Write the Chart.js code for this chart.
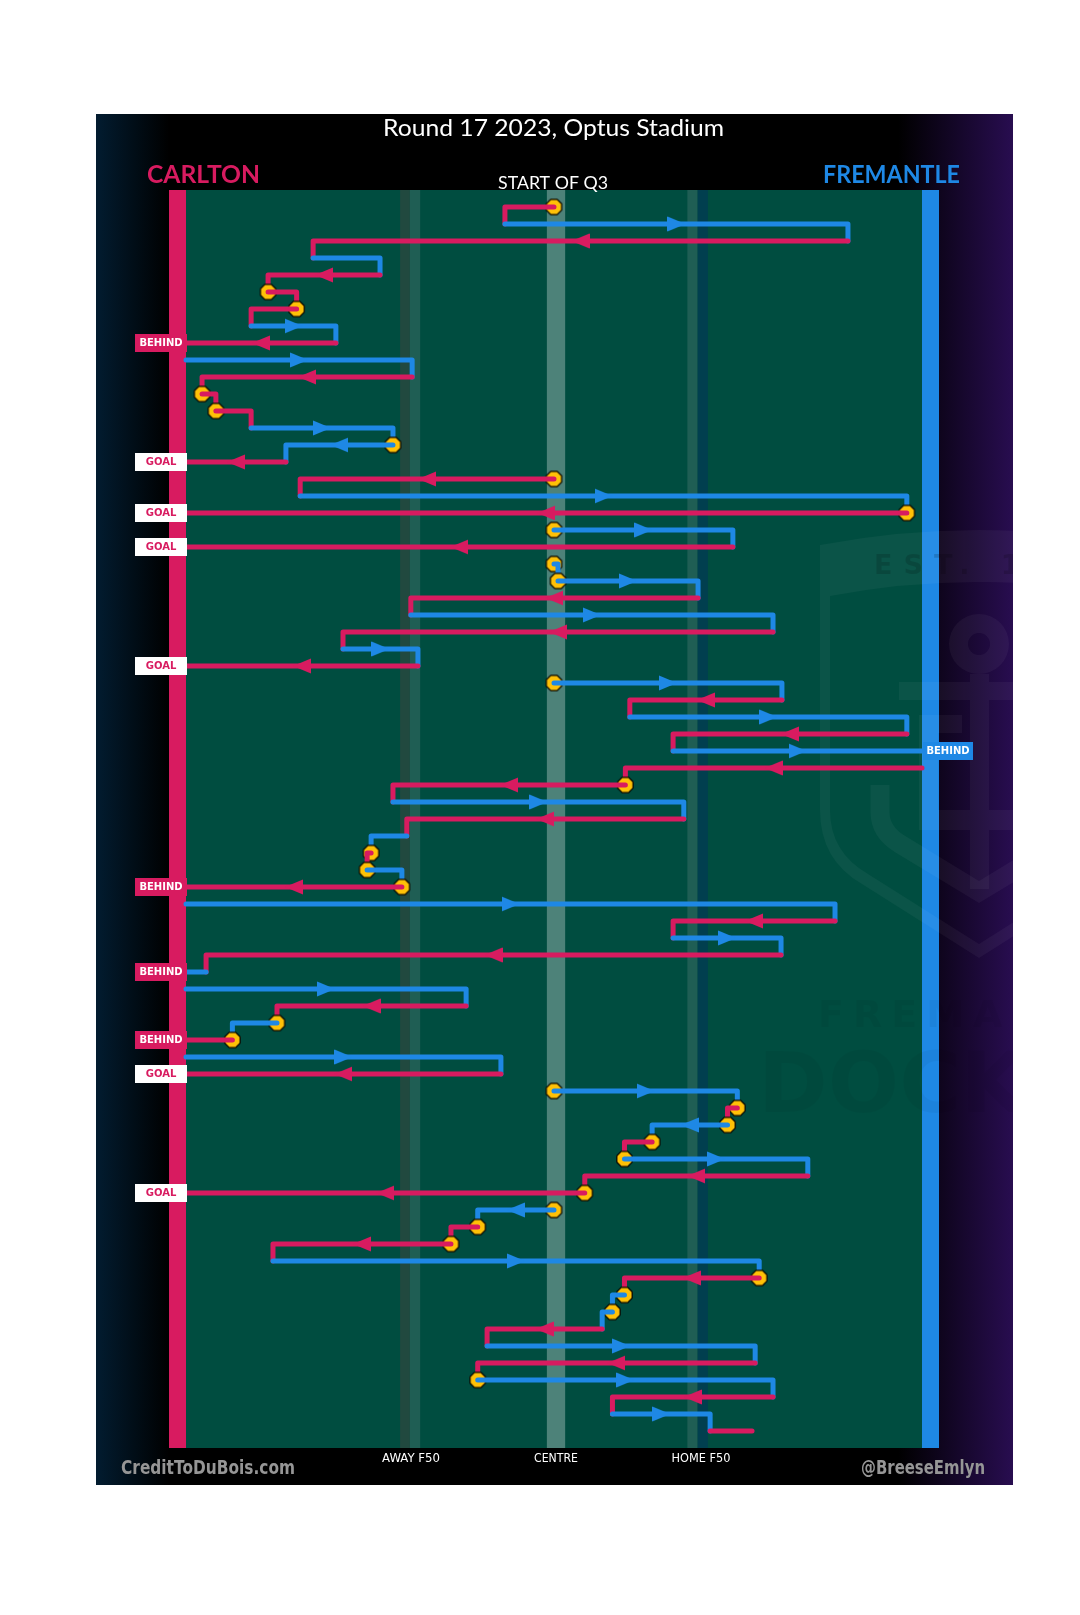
<!DOCTYPE html>
<html>
<head>
<meta charset="utf-8">
<script src="https://cdn.jsdelivr.net/npm/chart.js@4.4.0/dist/chart.umd.min.js"></script>
<style>
html,body{margin:0;padding:0;background:#ffffff;}
canvas{display:block;}
</style>
</head>
<body>
<canvas id="c" width="1080" height="1615" style="width:1080px;height:1615px"></canvas>
<script>
// ================= DATA =================
const FIELD_LENGTH = 165;               // metres, Carlton goal (0) -> Fremantle goal (165)
const TITLE = 'Round 17 2023, Optus Stadium';
const AWAY_TEAM = 'CARLTON';
const HOME_TEAM = 'FREMANTLE';
const START_LABEL = 'START OF Q3';
const zoneLabels = ['AWAY F50', 'CENTRE', 'HOME F50'];
const zonePositions = [50, 82.5, 115];   // metres
const creditLeft = 'CreditToDuBois.com';
const creditRight = '@BreeseEmlyn';

// one entry per chain segment (row), top to bottom
const rowTeam = ['C','F','C','F','C','C','C','F','C','F',
                 'C','C','C','F','F','C','C','F','C','F',
                 'C','F','F','C','F','C','F','C','F','C',
                 'F','C','F','C','C','F','C','F','C','F',
                 'C','F','C','F','C','F','F','C','F','C',
                 'F','C','F','C','F','C','F','C','C','F',
                 'C','C','F','C','F','F','C','F','C','F',
                 'C','F','C'];
const rowStart = [82.5, 71.5, 148.4, 28.5, 43.5, 18.4, 24.8, 14.6, 33.6, 0,
                  50.7, 3.6, 6.7, 14.6, 46.4, 22.4, 82.5, 25.6, 161.6, 82.5,
                  122.6, 82.5, 83.4, 114.8, 50.4, 131.6, 35.2, 52.0, 82.5, 133.6,
                  99.5, 161.6, 109.2, 165, 98.5, 46.4, 111.6, 49.5, 41.5, 40.6,
                  48.4, 0, 145.5, 109.2, 133.4, 4.5, 0, 62.8, 20.4, 10.4,
                  0, 70.6, 82.5, 123.6, 121.4, 104.5, 98.3, 139.4, 89.4, 82.5,
                  65.4, 59.4, 19.5, 128.5, 98.3, 95.6, 93.3, 67.5, 127.6, 65.4,
                  131.6, 95.6, 117.5];
const rowEnd   = [71.5, 148.4, 28.5, 43.5, 18.4, 24.8, 14.6, 33.6, 0, 50.7,
                  3.6, 6.7, 14.6, 46.4, 22.4, 0, 25.6, 161.6, 0, 122.6,
                  0, 83.4, 114.8, 50.4, 131.6, 35.2, 52.0, 0, 133.6, 99.5,
                  161.6, 109.2, 165, 98.5, 46.4, 111.6, 49.5, 41.5, 40.6, 48.4,
                  0, 145.5, 109.2, 133.4, 4.5, 0, 62.8, 20.4, 10.4, 0,
                  70.6, 0, 123.6, 121.4, 104.5, 98.3, 139.4, 89.4, 0, 65.4,
                  59.4, 19.5, 128.5, 98.3, 95.6, 93.3, 67.5, 127.6, 65.4, 131.6,
                  95.6, 117.5, 126.9];
// rows that begin with a stoppage (ball-up / bounce)
const stoppageRows = [0,5,6,11,12,14,16,18,19,21,22,28,34,38,39,40,48,49,52,53,54,55,56,58,59,60,61,63,64,65,69];
// rows that end in a score
const scoreRows  = [8, 15, 18, 20, 27, 32, 40, 45, 49, 51, 58];
const scoreTypes = ['BEHIND','GOAL','GOAL','GOAL','GOAL','BEHIND','BEHIND','BEHIND','BEHIND','GOAL','GOAL'];

// ================= STYLE =================
const PINK = '#d81b60', BLUE = '#1e88e5', GREEN = '#004d40', GOLD = '#ffc107';
const MIN_ARROW = 16.5;  // metres; shorter segments carry no arrow
const PANEL = {l: 96, t: 114, r: 1013, b: 1485};
const BAR_W = 17;

function makeArrow(color) {
  const c = document.createElement('canvas');
  c.width = 18; c.height = 16;
  const g = c.getContext('2d');
  g.fillStyle = color;
  g.beginPath(); g.moveTo(0, 0.5); g.lineTo(18, 8); g.lineTo(0, 15.5); g.closePath(); g.fill();
  return c;
}
function makeOct() {
  const c = document.createElement('canvas');
  c.width = 19; c.height = 19;
  const g = c.getContext('2d');
  g.beginPath();
  for (let i = 0; i < 8; i++) {
    const a = Math.PI / 8 + i * Math.PI / 4;
    const x = 9.5 + 8.3 * Math.cos(a), y = 9.5 + 8.3 * Math.sin(a);
    if (i) g.lineTo(x, y); else g.moveTo(x, y);
  }
  g.closePath();
  g.fillStyle = GOLD; g.fill();
  g.lineWidth = 1.2; g.strokeStyle = '#000'; g.stroke();
  return c;
}
const arrowPink = makeArrow(PINK), arrowBlue = makeArrow(BLUE), octagon = makeOct();

// ================= DATASETS =================
const N = rowTeam.length;
const datasets = [];
for (let k = 0; k < N; k++) {
  const xs = rowStart[k], xe = rowEnd[k];
  const pts = [{x: xs, y: k}, {x: (xs + xe) / 2, y: k}, {x: xe, y: k}];
  const scored = scoreRows.includes(k);
  if (!scored && k < N - 1) pts.push({x: xe, y: k + 1});
  const col = rowTeam[k] === 'C' ? PINK : BLUE;
  const showArrow = Math.abs(xe - xs) >= MIN_ARROW;
  datasets.push({
    type: 'line', data: pts, borderColor: col, borderWidth: 5,
    borderCapStyle: 'round', borderJoinStyle: 'round', tension: 0, fill: false, clip: false,
    order: 1000 - 2 * k,
    pointStyle: col === PINK ? arrowPink : arrowBlue,
    pointRotation: xe > xs ? 0 : 180,
    pointRadius: (ctx) => (ctx.dataIndex === 1 && showArrow) ? 8 : 0,
    pointHoverRadius: 0, pointHitRadius: 0
  });
  if (stoppageRows.includes(k)) {
    datasets.push({
      type: 'scatter', data: [{x: xs, y: k}], pointStyle: octagon, pointRadius: 8,
      pointHoverRadius: 8, order: 1000 - 2 * k + 1, clip: false
    });
  }
}

// ================= HELPERS =================
function fitText(ctx, text, left, base, width, font, color) {
  ctx.save();
  ctx.font = font; ctx.fillStyle = color; ctx.textAlign = 'left'; ctx.textBaseline = 'alphabetic';
  const m = ctx.measureText(text).width;
  ctx.translate(left, base); ctx.scale(width / m, 1);
  ctx.fillText(text, 0, 0);
  ctx.restore();
}

function drawWatermark(ctx) {
  ctx.save();
  ctx.beginPath(); ctx.rect(PANEL.l, PANEL.t, PANEL.r - PANEL.l, PANEL.b - PANEL.t); ctx.clip();
  ctx.fillStyle = 'rgba(255,255,255,0.045)';
  // shield band
  ctx.beginPath();
  ctx.moveTo(820, 545); ctx.lineTo(820, 810); ctx.quadraticCurveTo(820, 860, 862, 884);
  ctx.lineTo(979, 958); ctx.lineTo(1096, 884); ctx.quadraticCurveTo(1138, 860, 1138, 810);
  ctx.lineTo(1138, 545); ctx.quadraticCurveTo(979, 515, 820, 545); ctx.closePath();
  ctx.moveTo(830, 596); ctx.lineTo(830, 810); ctx.quadraticCurveTo(830, 852, 868, 874);
  ctx.lineTo(979, 944); ctx.lineTo(1090, 874); ctx.quadraticCurveTo(1128, 852, 1128, 810);
  ctx.lineTo(1128, 596); ctx.quadraticCurveTo(979, 568, 830, 596); ctx.closePath();
  ctx.fill('evenodd');
  // anchor ring
  ctx.beginPath();
  ctx.arc(979, 644, 30, 0, Math.PI * 2); ctx.moveTo(990, 644); ctx.arc(979, 644, 11, 0, Math.PI * 2);
  ctx.fill('evenodd');
  // shaft, stock, bracket
  ctx.beginPath();
  ctx.rect(970, 674, 19, 215);
  ctx.rect(899, 682, 160, 18);
  ctx.rect(919, 715, 43, 18);
  ctx.rect(919, 715, 19, 115);
  ctx.rect(919, 810, 101, 20);
  ctx.fill('nonzero');
  // arms
  ctx.strokeStyle = 'rgba(255,255,255,0.045)'; ctx.lineWidth = 19;
  ctx.beginPath();
  ctx.moveTo(880, 785); ctx.lineTo(880, 812); ctx.quadraticCurveTo(880, 832, 900, 844);
  ctx.lineTo(979, 892); ctx.lineTo(1058, 844); ctx.quadraticCurveTo(1078, 832, 1078, 812); ctx.lineTo(1078, 785);
  ctx.stroke();
  // texts
  ctx.fillStyle = 'rgba(0,0,0,0.15)';
  ctx.font = 'bold 27px "DejaVu Sans"';
  ctx.letterSpacing = '11px';
  ctx.fillText('EST. 1994', 874, 574);
  ctx.fillStyle = 'rgba(0,0,0,0.045)';
  ctx.font = 'bold 38px "DejaVu Sans"';
  ctx.letterSpacing = '9px';
  ctx.fillText('FREMANTLE', 818, 1027);
  ctx.fillStyle = 'rgba(0,0,0,0.04)';
  ctx.font = 'bold 84px "DejaVu Sans"';
  ctx.letterSpacing = '0px';
  ctx.fillText('DOCKERS', 758, 1112);
  ctx.restore();
}

const backgroundPlugin = {
  id: 'bg',
  beforeDraw(chart) {
    const ctx = chart.ctx, X = chart.scales.x, ca = chart.chartArea;
    ctx.save();
    ctx.fillStyle = '#ffffff'; ctx.fillRect(0, 0, chart.width, chart.height);
    const gr = ctx.createLinearGradient(PANEL.l, 0, PANEL.r, 0);
    gr.addColorStop(0, '#021c30'); gr.addColorStop(0.08, '#000000');
    gr.addColorStop(0.875, '#000000'); gr.addColorStop(1, '#280d50');
    ctx.fillStyle = gr; ctx.fillRect(PANEL.l, PANEL.t, PANEL.r - PANEL.l, PANEL.b - PANEL.t);
    ctx.fillStyle = GREEN; ctx.fillRect(ca.left, ca.top, ca.right - ca.left, ca.bottom - ca.top);
    const band = (a, b, c) => {
      const pa = X.getPixelForValue(a), pb = X.getPixelForValue(b);
      ctx.fillStyle = c; ctx.fillRect(pa, ca.top, pb - pa, ca.bottom - ca.top);
    };
    band(48.0, 50.2, '#21493f'); band(50.2, 52.5, '#1f5e54');
    band(80.9, 85.0, 'rgba(255,255,255,0.30)');
    band(112.4, 114.7, '#1f5e54'); band(114.7, 117.0, '#013f4f');
    // goal bars
    const p0 = X.getPixelForValue(0), p1 = X.getPixelForValue(FIELD_LENGTH);
    ctx.fillStyle = PINK; ctx.fillRect(p0 - BAR_W, ca.top, BAR_W, ca.bottom - ca.top);
    ctx.fillStyle = BLUE; ctx.fillRect(p1, ca.top, BAR_W, ca.bottom - ca.top);
    drawWatermark(ctx);
    // titles
    fitText(ctx, TITLE, 383, 136, 341, '24px Lato', '#ffffff');
    fitText(ctx, AWAY_TEAM, 147, 183, 113, 'bold 25px Lato', PINK);
    fitText(ctx, HOME_TEAM, 823, 183, 137, 'bold 25px Lato', BLUE);
    fitText(ctx, START_LABEL, 498, 189, 110, '18px Lato', '#ffffff');
    // bottom zone labels
    const zw = [58, 44, 59];
    zoneLabels.forEach((t, i) => {
      const cx = X.getPixelForValue(zonePositions[i]);
      fitText(ctx, t, cx - zw[i] / 2 + 2, 1462, zw[i], '13px "DejaVu Sans"', '#ffffff');
    });
    fitText(ctx, creditLeft, 121, 1474, 174, 'bold 19px "DejaVu Sans"', '#969696');
    fitText(ctx, creditRight, 861, 1474, 124, 'bold 19px "DejaVu Sans"', '#969696');
    ctx.restore();
  },
  afterDatasetsDraw(chart) {
    const ctx = chart.ctx, X = chart.scales.x, Y = chart.scales.y;
    ctx.save();
    ctx.font = 'bold 10px "DejaVu Sans"';
    ctx.textAlign = 'center'; ctx.textBaseline = 'middle';
    scoreRows.forEach((k, i) => {
      const y = Y.getPixelForValue(k);
      const type = scoreTypes[i];
      const atCarlton = rowEnd[k] === 0;
      let left, w, bg, fg;
      if (atCarlton) {
        w = 52; left = X.getPixelForValue(0) - 51;
        bg = type === 'GOAL' ? '#ffffff' : PINK; fg = type === 'GOAL' ? PINK : '#ffffff';
      } else {
        w = 50; left = X.getPixelForValue(FIELD_LENGTH) + 1;
        bg = type === 'GOAL' ? '#ffffff' : BLUE; fg = type === 'GOAL' ? BLUE : '#ffffff';
      }
      ctx.fillStyle = bg; ctx.fillRect(left, y - 9, w, 18);
      ctx.fillStyle = fg; ctx.fillText(type, left + w / 2, y + 0.5);
    });
    ctx.restore();
  }
};

new Chart(document.getElementById('c'), {
  type: 'line',
  data: { datasets },
  options: {
    responsive: false, animation: false, events: [],
    layout: { padding: { left: 186, right: 158, top: 190, bottom: 167 } },
    scales: {
      x: { type: 'linear', min: 0, max: FIELD_LENGTH, display: false },
      y: { type: 'linear', min: -1, max: N, reverse: true, display: false }
    },
    plugins: { legend: { display: false }, tooltip: { enabled: false }, title: { display: false } }
  },
  plugins: [backgroundPlugin]
});
</script>
</body>
</html>
